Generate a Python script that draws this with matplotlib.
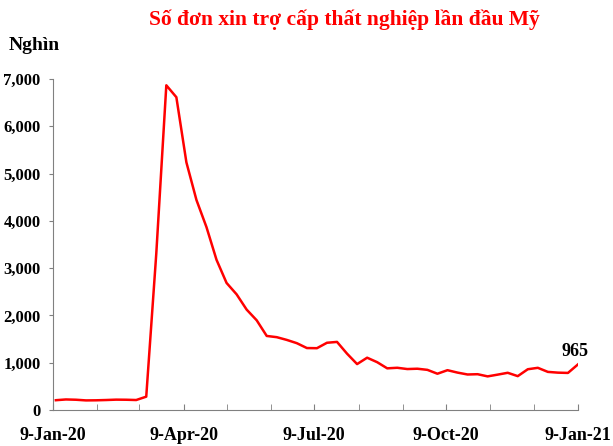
import matplotlib
matplotlib.use("agg")
import matplotlib.pyplot as plt
import matplotlib.dates as mdates
import matplotlib.ticker as mticker
import pandas as pd

# weekly initial jobless claims, thousands (week ending Saturday)
weeks = pd.date_range("2020-01-11", "2021-01-09", freq="7D")
claims = [207, 223, 217, 203, 205, 211, 219, 217, 211, 282,
          3307, 6867, 6615, 5237, 4442, 3867, 3176, 2687, 2446, 2123,
          1897, 1566, 1540, 1482, 1413, 1310, 1307, 1422, 1440, 1191,
          971, 1106, 1011, 881, 893, 866, 873, 849, 767, 842,
          791, 751, 757, 711, 748, 787, 716, 862, 892, 806,
          790, 784, 965]

title = "Số đơn xin trợ cấp thất nghiệp lần đầu Mỹ"
unit = "Nghìn"

plt.rcParams["font.family"] = ["Liberation Serif", "DejaVu Serif"]
plt.rcParams["font.weight"] = "bold"

fig = plt.figure(figsize=(6.13, 4.46), dpi=100)
ax = fig.add_axes([53 / 613, 36 / 446, 525 / 613, 331 / 446])

ax.plot(weeks, claims, color="#ff0000", linewidth=1.8)
ax.annotate(str(claims[-1]), (weeks[-1], claims[-1]), xytext=(-2, 3),
            textcoords="offset points", ha="center", va="bottom",
            fontsize=13, fontweight="bold")

ax.set_xlim(pd.Timestamp("2020-01-09"), pd.Timestamp("2021-01-09"))
ax.set_ylim(0, 7000)
ax.yaxis.set_major_locator(mticker.MultipleLocator(1000))
ax.yaxis.set_major_formatter(mticker.FuncFormatter(lambda v, p: f"{int(v):,}"))

ax.xaxis.set_major_locator(mdates.MonthLocator(bymonth=[1, 4, 7, 10], bymonthday=9))
ax.xaxis.set_minor_locator(mdates.MonthLocator(bymonthday=9))
ax.xaxis.set_major_formatter(mticker.FuncFormatter(
    lambda v, p: mdates.num2date(v).strftime("%d-%b-%y").lstrip("0")))

for s in ["top", "right"]:
    ax.spines[s].set_visible(False)
for s in ["left", "bottom"]:
    ax.spines[s].set_color("#808080")

ax.tick_params(axis="y", direction="out", length=3, color="#808080",
               labelsize=12, pad=6)
ax.tick_params(axis="x", which="both", direction="in", length=4,
               color="#808080", labelsize=13, pad=12)
for lab in ax.get_xticklabels() + ax.get_yticklabels():
    lab.set_fontweight("bold")

fig.text(344 / 613, 1 - 20 / 446, title, color="#ff0000", fontsize=15.5,
         fontweight="bold", ha="center", va="center")
fig.text(9 / 613, 1 - 46 / 446, unit, fontsize=14, fontweight="bold",
         ha="left", va="center")

fig.savefig("out.png", dpi=100)
